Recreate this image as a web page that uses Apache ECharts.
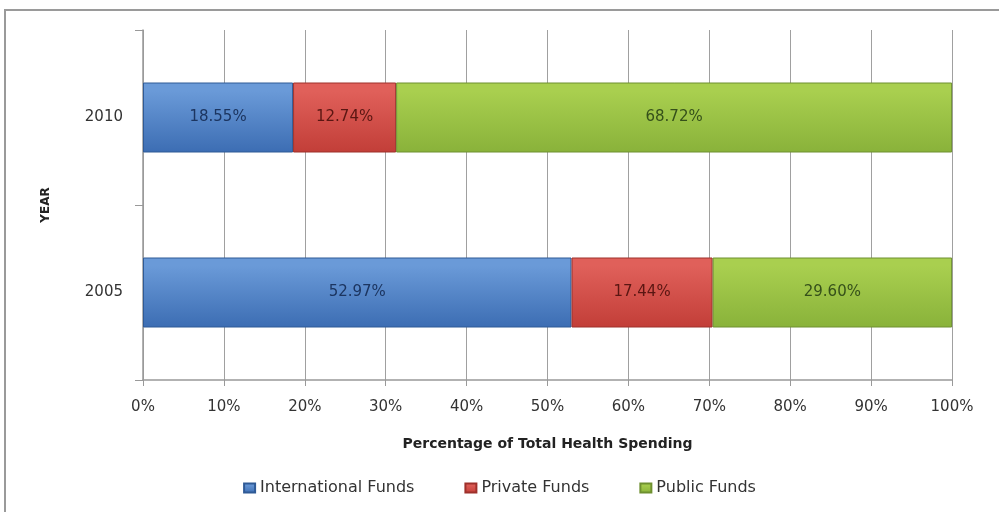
<!DOCTYPE html>
<html><head><meta charset="utf-8">
<script src="https://cdn.jsdelivr.net/npm/echarts@6/dist/echarts.min.js"></script>
<style>html,body{margin:0;padding:0;background:#fff}#c{width:999px;height:512px}</style>
</head><body><div id="c"></div>
<script>
const years = ['2005', '2010'];
const internationalFunds = [52.97, 18.55];
const privateFunds = [17.44, 12.74];
const publicFunds = [29.60, 68.72];
const xTicks = [0, 10, 20, 30, 40, 50, 60, 70, 80, 90, 100];

const FONT = '"DejaVu Sans", sans-serif';
function grad(top, bottom) {
  return new echarts.graphic.LinearGradient(0, 0, 0, 1, [
    {offset: 0, color: top}, {offset: 0.12, color: top}, {offset: 1, color: bottom}
  ]);
}
function mk(name, data, top, bottom, border, labelColor) {
  return {
    name: name, type: 'bar', stack: 'total', data: data, barWidth: '40%',
    itemStyle: {color: grad(top, bottom), borderColor: border, borderWidth: 1},
    label: {show: true, position: 'inside', color: labelColor, fontFamily: FONT, fontSize: 15,
      formatter: p => p.value.toFixed(2) + '%'}
  };
}
const chart = echarts.init(document.getElementById('c'), null, {renderer: 'canvas'});
chart.setOption({
  animation: false,
  backgroundColor: '#fff',
  graphic: [{type: 'rect', shape: {x: 5, y: 10, width: 1000, height: 510},
    style: {fill: 'none', stroke: '#9a9a9a', lineWidth: 2}, silent: true}],
  grid: {left: 143, right: 47, top: 30, bottom: 132},
  legend: {
    bottom: 11, left: 'center', itemWidth: 11, itemHeight: 9, itemGap: 50,
    icon: 'rect',
    textStyle: {fontFamily: FONT, fontSize: 16, color: '#333'},
    data: ['International Funds', 'Private Funds', 'Public Funds']
  },
  xAxis: {
    type: 'value', min: 0, max: 100, interval: 10,
    name: 'Percentage of Total Health Spending', nameLocation: 'middle', nameGap: 57,
    nameTextStyle: {fontFamily: FONT, fontSize: 14, fontWeight: 'bold', color: '#222'},
    axisLine: {show: true, lineStyle: {color: '#999', width: 1.5}},
    axisTick: {show: true, length: 6, lineStyle: {color: '#999'}},
    axisLabel: {margin: 20, fontFamily: FONT, fontSize: 15, color: '#333',
      formatter: v => xTicks.includes(v) ? v + '%' : ''},
    splitLine: {show: true, lineStyle: {color: '#a0a0a0', width: 1}}
  },
  yAxis: {
    type: 'category', data: years,
    name: 'YEAR', nameLocation: 'middle', nameGap: 91, nameRotate: 90,
    nameTextStyle: {fontFamily: FONT, fontSize: 12, fontWeight: 'bold', color: '#222'},
    axisLine: {show: true, lineStyle: {color: '#999', width: 1.5}},
    axisTick: {show: true, length: 8, lineStyle: {color: '#999'}},
    axisLabel: {margin: 20, fontFamily: FONT, fontSize: 15, color: '#333'}
  },
  series: [
    mk('International Funds', internationalFunds, '#6a9ad8', '#3c6db3', '#2f5a96', '#1c3560'),
    mk('Private Funds', privateFunds, '#e0605a', '#c23e38', '#9e302b', '#5a1612'),
    mk('Public Funds', publicFunds, '#a9cf4f', '#89b23a', '#6e9030', '#35501a')
  ],
  color: ['#4a7ec4', '#d04a44', '#9ac245']
});
</script></body></html>
